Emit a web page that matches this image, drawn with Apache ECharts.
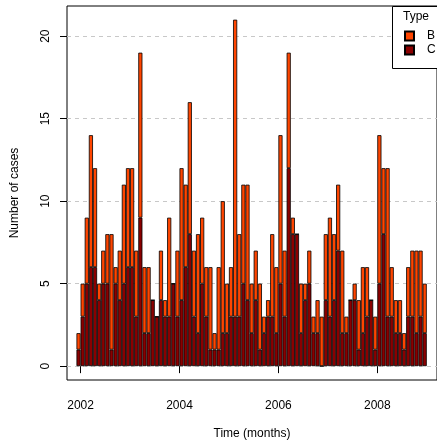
<!DOCTYPE html>
<html>
<head>
<meta charset="utf-8">
<script src="https://cdn.jsdelivr.net/npm/echarts@6/dist/echarts.min.js"></script>
<style>
  html, body { margin: 0; padding: 0; background: #fff; }
  #main { width: 437px; height: 441px; }
</style>
</head>
<body>
<div id="main"></div>
<script>
// monthly counts, Dec 2001 .. Dec 2008
var startYear = 2001, startMonth = 12;
var totalCases = [2,5,9,14,12,5,7,8,8,6,7,11,12,12,7,19,6,6,4,3,
                  7,4,9,5,7,12,11,16,7,8,9,6,6,2,6,10,5,6,21,8,
                  11,11,5,7,5,3,4,8,6,14,7,19,9,8,5,5,7,3,4,3,
                  8,9,8,11,7,3,4,5,4,6,6,4,3,14,12,12,6,4,4,2,
                  6,7,7,7,5];
var typeC = [1,3,5,6,6,4,5,5,1,5,4,5,6,6,3,9,2,2,4,3,
             4,3,3,5,3,4,6,8,3,2,5,3,1,1,1,2,2,3,3,3,
             5,4,2,4,1,2,3,3,2,5,3,12,8,8,2,4,5,2,2,0,
             4,3,4,7,2,2,4,4,1,2,3,4,1,5,8,3,3,2,2,1,
             3,3,2,3,2];
var typeB = totalCases.map(function (v, i) { return v - typeC[i]; });
var yTicks = [0, 5, 10, 15, 20];
var xTicks = [2002, 2004, 2006, 2008];

// month labels
var months = [];
for (var i = 0; i < totalCases.length; i++) {
    var m = startMonth - 1 + i;
    var yy = startYear + Math.floor(m / 12);
    var mm = (m % 12) + 1;
    months.push(yy + '-' + (mm < 10 ? '0' + mm : mm));
}

// plot box and time range (years)
var boxLeft = 67, boxRight = 0, boxTop = 6, boxBottom = 61;
var xMin = 2001.725, xMax = 2009.207;
var yMin = -0.84, yMax = 21.83;
var W = 437;
var pxPerYear = (W - boxLeft - boxRight) / (xMax - xMin);
var t0 = startYear + (startMonth - 1) / 12;          // start of first month
var t1 = t0 + totalCases.length / 12;                 // end of last month
var barLeft = boxLeft + (t0 - xMin) * pxPerYear;
var barRight = W - (boxLeft + (t1 - xMin) * pxPerYear);

var chart = echarts.init(document.getElementById('main'));
var font = 'Liberation Sans, Arial, Helvetica, sans-serif';
var plain = function (v) { return String(v); };

var option = {
    animation: false,
    backgroundColor: '#fff',
    grid: [
        { left: boxLeft, right: boxRight, top: boxTop, bottom: boxBottom, outerBoundsMode: 'none',
          show: true, borderColor: '#000', borderWidth: 1, backgroundColor: 'transparent' },
        { left: barLeft, right: barRight, top: boxTop, bottom: boxBottom, outerBoundsMode: 'none' }
    ],
    xAxis: [{
        gridIndex: 0,
        type: 'value',
        min: xMin, max: xMax,
        name: 'Time (months)',
        nameLocation: 'middle',
        nameGap: 48,
        nameTextStyle: { fontFamily: font, fontSize: 12, color: '#000' },
        axisLine: { show: false },
        axisTick: { show: true, length: 7, customValues: xTicks, lineStyle: { color: '#000' } },
        axisLabel: { customValues: xTicks, formatter: plain, margin: 20, fontFamily: font, fontSize: 12, color: '#000' },
        splitLine: { show: false }
    }, {
        gridIndex: 1,
        type: 'category',
        data: months,
        boundaryGap: true,
        show: false
    }],
    yAxis: [{
        gridIndex: 0,
        type: 'value',
        min: yMin, max: yMax,
        name: 'Number of cases',
        nameLocation: 'middle',
        nameGap: 46,
        nameTextStyle: { fontFamily: font, fontSize: 12, color: '#000' },
        axisLine: { show: false },
        axisTick: { show: true, length: 7, customValues: yTicks, lineStyle: { color: '#000' } },
        axisLabel: { customValues: yTicks, formatter: plain, rotate: 90, margin: 15, fontFamily: font, fontSize: 12, color: '#000' },
        splitLine: { show: true, lineStyle: { color: '#c8c8c8', type: [4, 4], width: 1 } }
    }, {
        gridIndex: 1,
        type: 'value',
        min: yMin, max: yMax,
        show: false,
        splitLine: { show: false }
    }],
    legend: {
        data: ['B', 'C'],
        orient: 'vertical',
        left: 404, top: 30,
        padding: 0,
        z: 6,
        itemWidth: 9, itemHeight: 9, itemGap: 2,
        icon: 'rect',
        textStyle: { fontFamily: font, fontSize: 12, color: '#000', padding: [0, 0, 0, 8] }
    },
    graphic: [
        { type: 'rect', z: 3, shape: { x: 392.5, y: 6.5, width: 60, height: 62 },
          style: { fill: '#fff', stroke: '#000', lineWidth: 1 } },
        { type: 'text', z: 6, left: 403, top: 11,
          style: { text: 'Type', fontFamily: font, fontSize: 12, fill: '#000' } }
    ],
    series: [
        {
            name: 'C', type: 'bar', stack: 'cases',
            xAxisIndex: 1, yAxisIndex: 1,
            data: typeC,
            barCategoryGap: '0%',
            itemStyle: { color: '#8B0000', borderColor: '#000', borderWidth: 0.8 }
        },
        {
            name: 'B', type: 'bar', stack: 'cases',
            xAxisIndex: 1, yAxisIndex: 1,
            data: typeB,
            barCategoryGap: '0%',
            itemStyle: { color: '#FF4500', borderColor: '#000', borderWidth: 0.8 }
        }
    ]
};
chart.setOption(option);
</script>
</body>
</html>
